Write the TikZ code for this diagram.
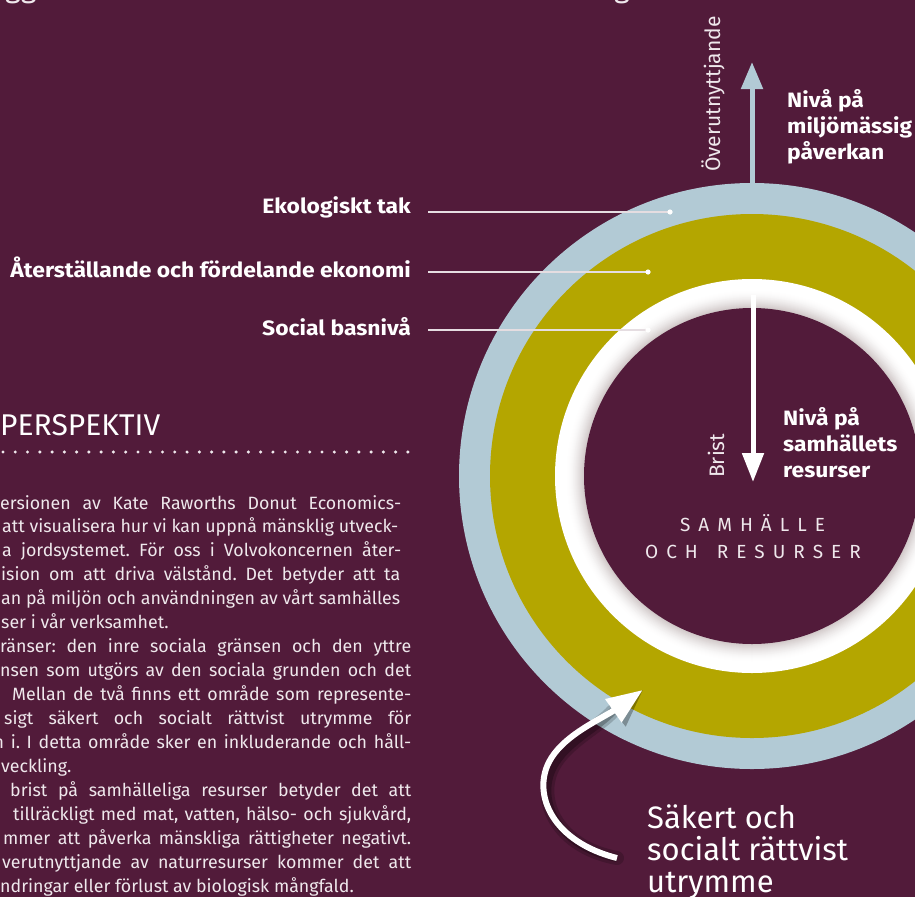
\documentclass[tikz,border=0pt]{standalone}
\usepackage{fontspec}
\setmainfont{Fira Sans}
\newfontfamily\labfont{Fira Sans}[FakeStretch=1.1]
\usetikzlibrary{arrows.meta}
\definecolor{bg}{HTML}{521B3A}
\definecolor{ice}{HTML}{B2CAD5}
\definecolor{olive}{HTML}{B4A600}
\definecolor{shd}{HTML}{D2CACA}
\definecolor{txt}{HTML}{EFE8EC}
\newcommand\lsp{\kern8pt}
\tikzset{
  lab/.style={text=white, inner sep=0pt, font=\labfont\bfseries\fontsize{20.8}{26}\selectfont},
  body/.style={text=txt, inner sep=0pt, anchor=base west, font=\frenchspacing\fontsize{17.8}{24}\selectfont},
  conn/.style={draw=white!85!bg, line width=1.2pt},
  dotm/.style={fill=white},
  thin/.style={text=txt, inner sep=0pt, font=\fontsize{21}{24}\selectfont}
}
\begin{document}
\begin{tikzpicture}[x=1pt,y=-1pt]
\useasboundingbox (0,0) rectangle (915,897);
\clip (0,0) rectangle (915,897);
\fill[bg] (0,0) rectangle (915,897);

% cropped title fragments
\node[text=txt, inner sep=0pt, anchor=base west, font=\fontsize{30}{30}\selectfont] (tg1) at (5,-3) {gg};
\node[text=txt, inner sep=0pt, anchor=base west, font=\fontsize{30}{30}\selectfont] (tg2) at (614,-3) {g};

% donut
\coordinate (C) at (752,476);
\fill[ice] (C) circle (293pt);
\fill[olive] (C) circle (262pt);
\fill[white] (C) circle (197pt);
\foreach \i in {0,...,17}{
  \pgfmathtruncatemacro\p{100*(\i/17)^1.6}
  \pgfmathsetmacro\rr{186-\i}
  \fill[shd!\p!white] (C) circle (\rr pt);
}
\fill[bg] (C) circle (168pt);

% arrows
\coordinate (ua) at (752,184);
\coordinate (ub) at (752,62);
\draw[ice, line width=5pt, -{Triangle[length=27pt,width=21pt]}] (ua) -- (ub);
\coordinate (da) at (753,295);
\coordinate (db) at (753,482);
\draw[white, line width=5pt, -{Triangle[length=29pt,width=21pt]}] (da) -- (db);

% labels with connectors
\node[lab, anchor=base east] (eko) at (411,213) {Ekologiskt tak};
\node[lab, anchor=base east] (ate) at (411,277) {Återställande och fördelande ekonomi};
\node[lab, anchor=base east] (soc) at (411,335) {Social basnivå};
\coordinate (d1) at (670,212);
\coordinate (d2) at (648,272);
\coordinate (d3) at (648,330);
\draw[conn, shorten <=17pt] (eko.base east |- d1) -- (d1);
\draw[conn, shorten <=17pt] (ate.base east |- d2) -- (d2);
\draw[conn, shorten <=17pt] (soc.base east |- d3) -- (d3);
\fill[dotm] (d1) circle (2.6pt);
\fill[dotm] (d2) circle (2.6pt);
\fill[dotm] (d3) circle (2.6pt);

\node[lab, anchor=base west] (miljo) at (787,107) {\parbox[t]{200pt}{\raggedright Nivå på\\miljömässig\\påverkan}};
\node[lab, anchor=base west] (samh) at (783,425) {\parbox[t]{200pt}{\raggedright Nivå på\\samhällets\\resurser}};
\node[thin, rotate=90, anchor=base west] (over) at (720,172) {Överutnyttjande};
\node[thin, rotate=90, anchor=base west] (brist) at (724,478) {Brist};

\node[thin, anchor=base, font=\fontsize{19}{24}\selectfont] (s1) at (752.5,531) {S\lsp A\lsp M\lsp H\lsp Ä\lsp L\lsp L\lsp E};
\node[thin, anchor=base, font=\fontsize{19}{24}\selectfont] (s2) at (753,558) {O\lsp C\lsp H\kern19pt R\lsp E\lsp S\lsp U\lsp R\lsp S\lsp E\lsp R};

% curved arrow with shadow
\coordinate (sa) at (617,858);
\coordinate (sb) at (613,711);
\coordinate (st) at (642.7,690);
\begin{scope}[shift={(4,5)}]
\draw[black, opacity=0.18, line width=14pt, line cap=round] (sa) .. controls (553,842) and (532,795) .. (549,762) .. controls (562,737) and (595,722) .. (sb);
\fill[black, opacity=0.3] (st) -- (605,700) -- (621.7,721.7) -- cycle;
\draw[black, opacity=0.25, line width=8pt] (sa) .. controls (553,842) and (532,795) .. (549,762) .. controls (562,737) and (595,722) .. (sb);
\end{scope}
\draw[white, line width=6pt, -{Triangle[length=36pt,width=27pt]}] (sa) .. controls (553,842) and (532,795) .. (549,762) .. controls (562,737) and (595,722) .. (sb) -- (st);

\node[text=white, inner sep=0pt, anchor=base west, font=\fontsize{31}{32}\selectfont] (sak) at (647,828) {\parbox[t]{260pt}{\raggedright Säkert och\\socialt rättvist\\utrymme}};

% left text column
\node[text=white, inner sep=0pt, anchor=base west, font=\fontsize{30}{30}\selectfont] (persp) at (0,435) {PERSPEKTIV};
\draw[txt, line width=3.4pt, line cap=round, dash pattern=on 0pt off 12.27pt] (3,452) -- (410,452);

\foreach \k/\x/\r/\t in {
 0/0/401/{ersionen av Kate Raworths Donut Economics-},
 1/2/398/{att visualisera hur vi kan uppnå mänsklig utveck-},
 2/2/401/{a jordsystemet. För oss i Volvokoncernen åter-},
 3/1/400/{ision om att driva välstånd. Det betyder att ta},
 4/1/400/{an på miljön och användningen av vårt samhälles},
 6/0/411/{ränser: den inre sociala gränsen och den yttre},
 7/0/411/{nsen som utgörs av den sociala grunden och det},
 8/12/411/{Mellan de två finns ett område som represente-},
 9/4/411/{sigt säkert och socialt rättvist utrymme för},
 10/-6.5/411/{n i. I detta område sker en inkluderande och håll-},
 12/10/411/{brist på samhälleliga resurser betyder det att},
 13/13/411/{tillräckligt med mat, vatten, hälso- och sjukvård,},
 14/3/411/{mmer att påverka mänskliga rättigheter negativt.},
 15/2/411/{verutnyttjande av naturresurser kommer det att}}{
  \pgfmathsetmacro\ww{\r-\x}
  \node[body] (b\k) at (\x,{509+23.94*\k}) {\makebox[\ww pt][s]{\t}};
}
\foreach \k/\x/\t in {
 5/1/{ser i vår verksamhet.},
 11/1/{veckling.},
 16/0/{ndringar eller förlust av biologisk mångfald.}}{
  \node[body] (b\k) at (\x,{509+23.94*\k}) {\t};
}
\end{tikzpicture}
\end{document}
